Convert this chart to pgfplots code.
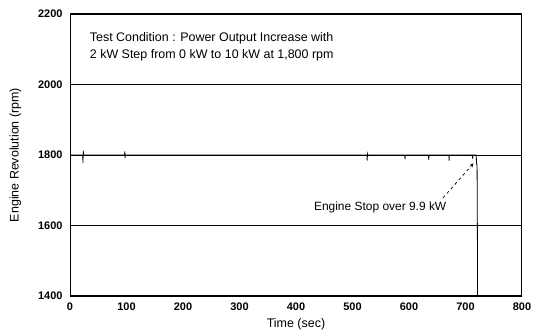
\documentclass[border=0pt]{standalone}
\usepackage{pgfplots}
\pgfplotsset{compat=1.18}
\usepackage{fontspec}
\setmainfont{Liberation Sans}
\begin{document}
\begin{tikzpicture}
\begin{axis}[
  at={(0,0)}, anchor=south west,
  scale only axis, width=452bp, height=282bp,
  xmin=0, xmax=800, ymin=1400, ymax=2200,
  xtick={0,100,...,800}, ytick={1400,1600,...,2200},
  major tick length=0pt,
  ymajorgrids, grid style={black, line width=0.7pt},
  axis line style={line width=1pt},
  /pgf/number format/assume math mode=true,
  /pgf/number format/set thousands separator={},
  tick label style={font=\fontsize{11}{12}\selectfont\bfseries},
  xticklabel style={yshift=-3pt},
  yticklabel style={xshift=-4pt},
  xlabel={Time (sec)}, ylabel={Engine Revolution (rpm)},
  label style={font=\fontsize{12.5}{14}\selectfont},
  xlabel style={yshift=-1pt},
  ylabel style={yshift=10pt},
  clip=true,
]
\addplot[black, line width=0.8pt] coordinates {
(0,1800) (22.5,1800) (23,1778) (23.5,1812) (24,1800)
(96.5,1800) (97,1810) (97.5,1792) (98,1800)
(200,1800) (300,1800)
(525.5,1800) (526,1784) (526.5,1803) (527,1800)
(592.5,1800) (593,1788) (593.5,1800)
(634.5,1800) (635,1786) (635.5,1800)
(670.5,1800) (671,1784) (671.5,1800)
(712,1800) (712.5,1790) (713,1800)
(719,1800) (719.5,1776) (720.5,1770) (721,1600) (721.5,1300) (722,0) (800,0)
};
\node[font=\fontsize{12.5}{17}\selectfont, anchor=west, align=left] at (axis cs:29,2106) {Test Condition : Power Output Increase with\\2 kW Step from 0 kW to 10 kW at 1,800 rpm};
\node[font=\fontsize{12}{14}\selectfont] at (axis cs:549,1652) {Engine Stop over 9.9 kW};
\draw[black, dashed, line width=0.7pt, -stealth] (axis cs:660,1678) -- (axis cs:714,1776);
\end{axis}
\pgfresetboundingbox
\path[use as bounding box] (-70bp,-40bp) rectangle (469bp,296bp);
\end{tikzpicture}
\end{document}
